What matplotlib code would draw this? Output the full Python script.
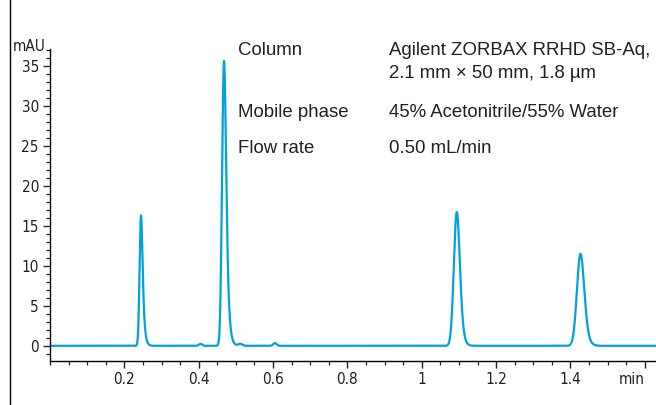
import numpy as np
import matplotlib
matplotlib.use("Agg")
import matplotlib.pyplot as plt
from matplotlib.lines import Line2D
from matplotlib.ticker import MultipleLocator
from matplotlib import font_manager

# peak table (min, mAU, min, min)
retention = [0.245, 0.405, 0.468, 0.512, 0.605, 1.094, 1.427]
height = [16.3, 0.25, 35.6, 0.25, 0.35, 16.7, 11.5]
sigma = [0.0033, 0.004, 0.0045, 0.005, 0.004, 0.0072, 0.0088]
tailing = [0.004, 0.002, 0.005, 0.002, 0.002, 0.005, 0.006]

x_ticks = [0.2, 0.4, 0.6, 0.8, 1.0, 1.2, 1.4, 1.6]
x_labels = ["0.2", "0.4", "0.6", "0.8", "1", "1.2", "1.4", "min"]
y_ticks = [0, 5, 10, 15, 20, 25, 30, 35]

info_keys = ["Column", "", "Mobile phase", "Flow rate"]
info_vals = ["Agilent ZORBAX RRHD SB-Aq,", "2.1 mm \u00d7 50 mm, 1.8 \u00b5m",
             "45% Acetonitrile/55% Water", "0.50 mL/min"]

BLUE = "#00a1de"
SANS = ["Liberation Sans", "DejaVu Sans"]

# a condensed face for the axis numbers, if one is around
names = {f.name for f in font_manager.fontManager.ttflist}
narrow_fp = None
for cand in ["Liberation Sans Narrow", "DejaVu Sans Condensed"]:
    if cand in names:
        narrow_fp = font_manager.FontProperties(family=cand, size=11)
        break
if narrow_fp is None:
    narrow_fp = font_manager.FontProperties(family="DejaVu Sans",
                                            stretch="condensed", size=11)


def emg_peak(t, rt, h, sig, tau, dt):
    """Gaussian convolved with an exponential tail, apex moved to rt."""
    g = np.exp(-0.5 * ((t - rt) / sig) ** 2)
    k = np.exp(-np.arange(0, 10 * tau, dt) / tau)
    y = np.convolve(g, k)[: len(t)]
    shift = int(round(rt / dt)) - int(np.argmax(y))
    y = np.roll(y, shift)
    return h * y / y.max()


dt = 0.0005
t = np.arange(0, 1.64, dt)
signal = np.zeros_like(t)
for rt, h, s, tau in zip(retention, height, sigma, tailing):
    signal += emg_peak(t, rt, h, s, tau, dt)

fig = plt.figure(figsize=(6.56, 4.05), dpi=100)
ax = fig.add_axes([50 / 656, 44 / 405, 606 / 656, 312 / 405])
ax.plot(t, signal, color=BLUE, lw=1.6)

ax.set_xlim(0, 1.63)
ax.set_ylim(-1.9, 37.1)
ax.set_xticks(x_ticks)
ax.set_xticklabels(x_labels)
ax.xaxis.set_minor_locator(MultipleLocator(0.05))
ax.set_yticks(y_ticks)
ax.yaxis.set_minor_locator(MultipleLocator(1))
for side in ("top", "right"):
    ax.spines[side].set_visible(False)
for side in ("left", "bottom"):
    ax.spines[side].set_linewidth(1.0)
ax.tick_params(which="major", length=5, width=1.0, pad=3, colors="#231f20")
ax.tick_params(which="minor", length=3, width=0.9, colors="#231f20")
for lab in ax.get_xticklabels() + ax.get_yticklabels():
    lab.set_fontproperties(narrow_fp)
ax.get_xticklabels()[-1].set_horizontalalignment("right")
ax.get_xticklabels()[-1].set_x(1.625)

ax.annotate("mAU", xy=(0, 1), xycoords="axes fraction", xytext=(-3, 2),
            textcoords="offset points", ha="right", va="center",
            fontproperties=narrow_fp, color="#231f20")

# left frame rule
fig.add_artist(Line2D([10 / 656, 10 / 656], [0, 1], color="black", lw=1.0))

# method conditions
line_y = [55, 78, 117, 153]
for key, val, y in zip(info_keys, info_vals, line_y):
    fig.text(238 / 656, 1 - y / 405, key, fontsize=13.4, family=SANS,
             va="baseline", color="#231f20")
    fig.text(389 / 656, 1 - y / 405, val, fontsize=13.4, family=SANS,
             va="baseline", color="#231f20")

fig.savefig("out.png", dpi=100)
